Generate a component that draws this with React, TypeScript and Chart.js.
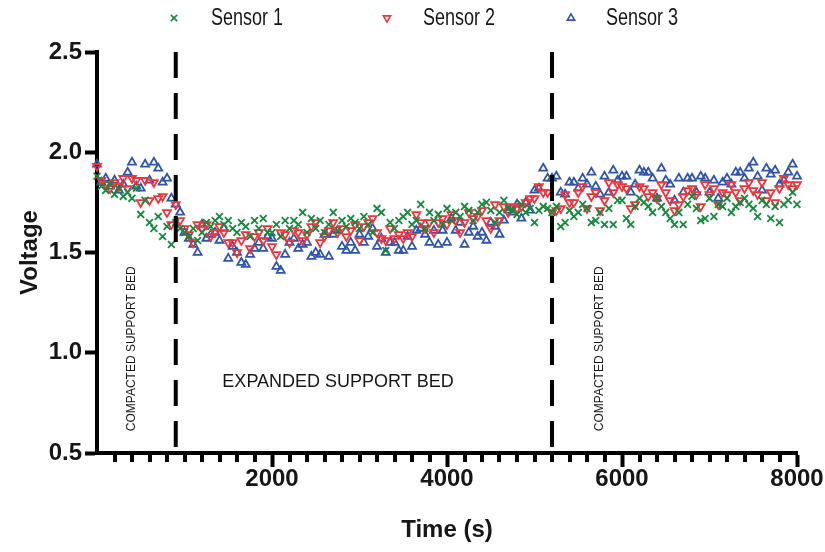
import React, { useEffect, useRef } from 'react';
import { Chart, registerables } from 'chart.js';

Chart.register(...registerables);

// ---- data ----
const sampleIntervalSeconds = 50;

const sensor1 = [
  1.88, 1.83, 1.81, 1.84, 1.79, 1.82, 1.78, 1.80, 1.77, 1.82,
  1.69, 1.76, 1.65, 1.62, 1.68, 1.58, 1.63, 1.54, 1.65, 1.62,
  1.60, 1.58, 1.62, 1.56, 1.60, 1.65, 1.63, 1.66, 1.68, 1.64,
  1.66, 1.62, 1.60, 1.65, 1.63, 1.58, 1.66, 1.62, 1.67, 1.60,
  1.60, 1.64, 1.58, 1.66, 1.62, 1.66, 1.64, 1.70, 1.60, 1.67,
  1.62, 1.66, 1.60, 1.64, 1.70, 1.61, 1.66, 1.63, 1.67, 1.65,
  1.62, 1.68, 1.64, 1.60, 1.72, 1.70, 1.51, 1.65, 1.62, 1.66,
  1.68, 1.70, 1.64, 1.66, 1.74, 1.62, 1.70, 1.66, 1.69, 1.64,
  1.72, 1.66, 1.70, 1.68, 1.73, 1.71, 1.66, 1.70, 1.74, 1.75,
  1.71, 1.65, 1.70, 1.76, 1.72, 1.71, 1.69, 1.74, 1.70, 1.72,
  1.65, 1.71, 1.73, 1.72, 1.70, 1.73, 1.63, 1.65, 1.71, 1.68,
  1.70, 1.74, 1.72, 1.65, 1.66, 1.70, 1.64, 1.72, 1.64, 1.76,
  1.76, 1.67, 1.64, 1.73, 1.77, 1.75, 1.73, 1.70, 1.77, 1.73,
  1.70, 1.67, 1.64, 1.70, 1.64, 1.74, 1.78, 1.72, 1.66, 1.67,
  1.77, 1.68, 1.74, 1.73, 1.77, 1.70, 1.73, 1.75, 1.77, 1.74,
  1.72, 1.68, 1.76, 1.74, 1.67, 1.73, 1.65, 1.74, 1.76, 1.80,
  1.74,
];

const sensor2 = [
  1.93, 1.86, 1.84, 1.82, 1.85, 1.83, 1.87, 1.82, 1.87, 1.86,
  1.75, 1.86, 1.76, 1.85, 1.77, 1.78, 1.70, 1.64, 1.74, 1.66,
  1.62, 1.59, 1.55, 1.64, 1.62, 1.64, 1.58, 1.60, 1.63, 1.60,
  1.55, 1.55, 1.50, 1.56, 1.59, 1.52, 1.58, 1.60, 1.56, 1.62,
  1.53, 1.49, 1.60, 1.59, 1.55, 1.61, 1.60, 1.56, 1.59, 1.63,
  1.65, 1.55, 1.58, 1.61, 1.65, 1.60, 1.62, 1.58, 1.61, 1.64,
  1.56, 1.63, 1.65, 1.67, 1.60, 1.57, 1.56, 1.62, 1.57, 1.59,
  1.57, 1.60, 1.58, 1.69, 1.65, 1.62, 1.65, 1.60, 1.65, 1.67,
  1.64, 1.69, 1.66, 1.60, 1.65, 1.70, 1.67, 1.68, 1.71, 1.66,
  1.62, 1.74, 1.66, 1.73, 1.70, 1.73, 1.72, 1.73, 1.75, 1.77,
  1.77, 1.83, 1.80, 1.80, 1.70, 1.71, 1.72, 1.79, 1.75, 1.75,
  1.80, 1.83, 1.72, 1.78, 1.80, 1.71, 1.76, 1.85, 1.80, 1.84,
  1.83, 1.82, 1.72, 1.74, 1.83, 1.82, 1.78, 1.80, 1.77, 1.84,
  1.80, 1.76, 1.71, 1.74, 1.78, 1.81, 1.82, 1.79, 1.73, 1.84,
  1.79, 1.82, 1.74, 1.80, 1.79, 1.84, 1.80, 1.76, 1.82, 1.85,
  1.81, 1.79, 1.85, 1.76, 1.80, 1.75, 1.82, 1.87, 1.84, 1.82,
  1.84,
];

const sensor3 = [
  1.94, 1.85, 1.87, 1.83, 1.86, 1.81, 1.84, 1.90, 1.95, 1.83,
  1.82, 1.94, 1.86, 1.95, 1.92, 1.85, 1.87, 1.77, 1.74, 1.70,
  1.60, 1.57, 1.54, 1.50, 1.64, 1.57, 1.59, 1.60, 1.56, 1.62,
  1.47, 1.53, 1.50, 1.45, 1.44, 1.49, 1.52, 1.55, 1.52, 1.58,
  1.57, 1.43, 1.41, 1.49, 1.55, 1.57, 1.52, 1.54, 1.55, 1.48,
  1.50, 1.49, 1.59, 1.48, 1.59, 1.61, 1.53, 1.51, 1.55, 1.51,
  1.59, 1.55, 1.58, 1.62, 1.53, 1.57, 1.50, 1.55, 1.55, 1.51,
  1.51, 1.58, 1.53, 1.61, 1.62, 1.59, 1.55, 1.61, 1.54, 1.61,
  1.55, 1.67, 1.61, 1.65, 1.54, 1.60, 1.63, 1.58, 1.60, 1.56,
  1.65, 1.63, 1.59, 1.66, 1.71, 1.70, 1.74, 1.67, 1.75, 1.71,
  1.81, 1.82, 1.92, 1.87, 1.87, 1.88, 1.80, 1.79, 1.85, 1.85,
  1.82, 1.87, 1.84, 1.90, 1.83, 1.79, 1.88, 1.80, 1.91, 1.86,
  1.88, 1.88, 1.80, 1.84, 1.91, 1.90, 1.90, 1.87, 1.77, 1.92,
  1.86, 1.84, 1.76, 1.87, 1.80, 1.87, 1.87, 1.80, 1.88, 1.87,
  1.80, 1.86, 1.77, 1.85, 1.87, 1.84, 1.90, 1.90, 1.87, 1.92,
  1.95, 1.88, 1.81, 1.92, 1.89, 1.91, 1.84, 1.86, 1.90, 1.94,
  1.88,
];

const seriesLabels = ['Sensor 1', 'Sensor 2', 'Sensor 3'];
const phaseBoundaryTimes = [900, 5200];
const phaseLabels = ['COMPACTED SUPPORT BED', 'EXPANDED SUPPORT BED', 'COMPACTED SUPPORT BED'];
const phaseLabelTimes = [400, 2755, 5740];
const phaseLabelVoltages = [1.02, 0.855, 1.02];

const xAxisTitle = 'Time (s)';
const yAxisTitle = 'Voltage';
const xRange = [0, 8000];
const xMajorStep = 2000;
const xMinorStep = 200;
const yRange = [0.5, 2.5];
const yStep = 0.5;

// ---- styles ----
const COLORS = ['#168a3e', '#f0353d', '#2d55ae'];
const FONT = '"Liberation Sans", Arial, Helvetica, sans-serif';
const INK = '#161616';

function toPoints(values: number[]) {
  return values.map((v, i) => ({ x: i * sampleIntervalSeconds, y: v }));
}

function drawMarker(ctx: CanvasRenderingContext2D, kind: number, x: number, y: number, r: number) {
  ctx.beginPath();
  if (kind === 0) {
    const d = Math.cos(Math.PI / 4) * r;
    ctx.moveTo(x - d, y - d);
    ctx.lineTo(x + d, y + d);
    ctx.moveTo(x + d, y - d);
    ctx.lineTo(x - d, y + d);
  } else {
    const flip = kind === 1 ? -1 : 1; // 1: pointing down, 2: pointing up
    for (let k = 0; k < 3; k++) {
      const a = (k * 2 * Math.PI) / 3;
      const px = x + Math.sin(a) * r;
      const py = y - flip * Math.cos(a) * r;
      if (k === 0) ctx.moveTo(px, py);
      else ctx.lineTo(px, py);
    }
    ctx.closePath();
  }
  ctx.stroke();
}

const legendLayout = { y: 18, markerX: [174, 387, 571], textX: [211, 423, 606], fontSize: 24, squeeze: 0.75 };

const decorPlugin = {
  id: 'decor',
  afterDatasetsDraw(chart: any) {
    const { ctx, scales } = chart;
    const xs = scales.x;
    const ys = scales.y;
    ctx.save();
    // minor ticks on x axis
    ctx.strokeStyle = '#000';
    ctx.lineWidth = 4;
    ctx.beginPath();
    for (let v = xRange[0] + xMinorStep; v < xRange[1]; v += xMinorStep) {
      if (v % xMajorStep === 0) continue;
      const px = Math.round(xs.getPixelForValue(v));
      ctx.moveTo(px, ys.bottom);
      ctx.lineTo(px, ys.bottom + 9);
    }
    ctx.stroke();

    // phase annotations
    ctx.fillStyle = INK;
    ctx.textAlign = 'center';
    ctx.textBaseline = 'middle';
    phaseLabels.forEach((text, i) => {
      const px = xs.getPixelForValue(phaseLabelTimes[i]);
      const py = ys.getPixelForValue(phaseLabelVoltages[i]);
      ctx.save();
      ctx.translate(px, py);
      if (i !== 1) {
        ctx.rotate(-Math.PI / 2);
        ctx.font = `12px ${FONT}`;
      } else {
        ctx.font = `18px ${FONT}`;
      }
      ctx.fillText(text, 0, 0);
      ctx.restore();
    });

    // legend
    ctx.lineWidth = 1.6;
    seriesLabels.forEach((label, i) => {
      ctx.strokeStyle = COLORS[i];
      drawMarker(ctx, i, legendLayout.markerX[i], legendLayout.y, i === 0 ? 4.5 : 4.2);
      ctx.save();
      ctx.fillStyle = INK;
      ctx.font = `${legendLayout.fontSize}px ${FONT}`;
      ctx.textAlign = 'left';
      ctx.textBaseline = 'middle';
      ctx.translate(legendLayout.textX[i], legendLayout.y);
      ctx.scale(legendLayout.squeeze, 1);
      ctx.fillText(label, 0, 0);
      ctx.restore();
    });
    ctx.restore();
  },
};

export default function App() {
  const canvasRef = useRef<HTMLCanvasElement | null>(null);

  useEffect(() => {
    if (!canvasRef.current) return;
    const seriesValues = [sensor1, sensor2, sensor3];
    const pointStyles = ['crossRot', 'triangle', 'triangle'];
    const rotations = [0, 180, 0];

    const boundaryDatasets = phaseBoundaryTimes.map((t) => ({
      type: 'line' as const,
      label: '',
      data: [
        { x: t, y: yRange[1] },
        { x: t, y: yRange[0] },
      ],
      borderColor: '#000',
      borderWidth: 4,
      borderDash: [26, 15],
      borderCapStyle: 'butt' as const,
      pointRadius: 0,
      showLine: true,
      fill: false,
      order: 0,
    }));

    const sensorDatasets = seriesValues.map((vals, i) => ({
      type: 'scatter' as const,
      label: seriesLabels[i],
      data: toPoints(vals),
      pointStyle: pointStyles[i] as any,
      rotation: rotations[i],
      pointRotation: rotations[i],
      pointRadius: i === 0 ? 4.8 : 4.6,
      pointBorderWidth: 1.8,
      borderWidth: 1.8,
      borderColor: COLORS[i],
      backgroundColor: 'rgba(0,0,0,0)',
      pointBackgroundColor: 'rgba(0,0,0,0)',
      pointBorderColor: COLORS[i],
      clip: false as any,
      order: 1 + i,
    }));

    const chart = new Chart(canvasRef.current, {
      type: 'scatter',
      data: { datasets: [...boundaryDatasets, ...sensorDatasets] as any },
      options: {
        responsive: false,
        animation: false,
        events: [],
        layout: { padding: { left: 0, right: 28, top: 52, bottom: 0 } },
        plugins: {
          legend: { display: false },
          tooltip: { enabled: false },
        },
        scales: {
          x: {
            type: 'linear',
            min: xRange[0],
            max: xRange[1],
            afterFit: (s: any) => {
              s.height = 99;
            },
            border: { display: true, color: '#000', width: 4 },
            grid: {
              display: true,
              drawOnChartArea: false,
              drawTicks: true,
              tickLength: 14,
              tickWidth: 4,
              tickColor: (c: any) => (c.tick && c.tick.value === xRange[0] ? 'rgba(0,0,0,0)' : '#000'),
            },
            ticks: {
              stepSize: xMajorStep,
              autoSkip: false,
              maxRotation: 0,
              padding: -2,
              color: INK,
              font: { family: FONT, size: 24, weight: 'bold' },
              callback: (v: any) => (Number(v) === xRange[0] ? '' : String(v)),
            },
            title: {
              display: true,
              text: xAxisTitle,
              color: INK,
              font: { family: FONT, size: 24, weight: 'bold' },
              padding: { top: 0, bottom: 7 },
            },
          },
          y: {
            type: 'linear',
            min: yRange[0],
            max: yRange[1],
            afterFit: (s: any) => {
              s.width = 97;
            },
            border: { display: true, color: '#000', width: 4 },
            grid: {
              display: true,
              drawOnChartArea: false,
              drawTicks: true,
              tickLength: 12,
              tickWidth: 4,
              tickColor: '#000',
            },
            ticks: {
              stepSize: yStep,
              padding: 3,
              color: INK,
              font: { family: FONT, size: 24, weight: 'bold' },
              callback: (v: any) => Number(v).toFixed(1),
            },
            title: {
              display: true,
              text: yAxisTitle,
              color: INK,
              font: { family: FONT, size: 24, weight: 'bold' },
              padding: { top: 16, bottom: 0 },
            },
          },
        },
      } as any,
      plugins: [decorPlugin],
    });

    return () => {
      chart.destroy();
    };
  }, []);

  return (
    <div style={{ position: 'absolute', left: 0, top: 0, width: 825, height: 552, background: '#fff' }}>
      <canvas ref={canvasRef} width={825} height={552} style={{ display: 'block' }} />
    </div>
  );
}
